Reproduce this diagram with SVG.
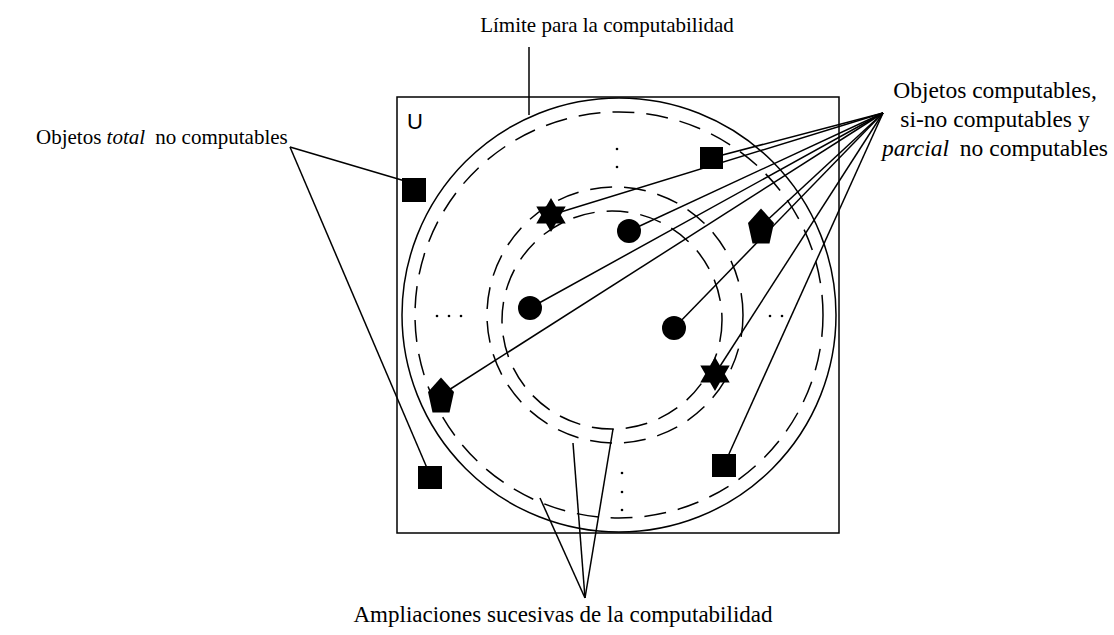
<svg xmlns="http://www.w3.org/2000/svg" xmlns:xlink="http://www.w3.org/1999/xlink" width="1114" height="635" viewBox="0 0 1114 635">
<style>
.lbl{font-family:"Liberation Serif","Times New Roman",serif;font-size:21px;fill:#000}
.big{font-size:23.5px}
.bot{font-size:23px}
.ln{stroke:#000;stroke-width:1.5;fill:none}
.dash{stroke:#000;stroke-width:1.5;fill:none;stroke-dasharray:22 12}
.blk{fill:#000}
.dot{fill:#000}
</style>
<defs>
<polygon id="star" points="0,-17 4.91,-8.5 14.72,-8.5 9.81,0 14.72,8.5 4.91,8.5 0,17 -4.91,8.5 -14.72,8.5 -9.81,0 -14.72,-8.5 -4.91,-8.5"/>
<polygon id="pent" points="0,-17.5 13,-3 8.5,17.5 -8.5,17.5 -13,-3"/>
</defs>
<rect width="1114" height="635" fill="#fff"/>

<g id="universe">
<rect class="ln" x="397" y="97" width="442" height="436"/>
<text x="407" y="129" style="font-family:'Liberation Sans',Arial,sans-serif;font-size:22px">U</text>
</g>

<g id="limit-circle">
<ellipse class="ln" cx="619" cy="315" rx="217" ry="217"/>
</g>
<g id="extension-circles">
<ellipse class="dash" cx="619" cy="315" rx="204" ry="203"/>
<ellipse class="dash" cx="615" cy="315" rx="128" ry="128"/>
<ellipse class="dash" cx="612" cy="320" rx="110" ry="109"/>
</g>

<g id="ellipsis-dots">
<circle class="dot" cx="617" cy="149" r="1.3"/>
<circle class="dot" cx="617" cy="167" r="1.3"/>
<circle class="dot" cx="437" cy="316" r="1.3"/>
<circle class="dot" cx="449" cy="316" r="1.3"/>
<circle class="dot" cx="461" cy="316" r="1.3"/>
<circle class="dot" cx="770" cy="316" r="1.3"/>
<circle class="dot" cx="782" cy="316" r="1.3"/>
<circle class="dot" cx="622" cy="473" r="1.3"/>
<circle class="dot" cx="622" cy="492" r="1.3"/>
<circle class="dot" cx="622" cy="510" r="1.3"/>
</g>

<g id="connectors" class="ln">
<line x1="529" y1="47" x2="529" y2="115"/>
<line x1="290" y1="147" x2="405" y2="181"/>
<line x1="290" y1="147" x2="427" y2="468"/>
<line x1="883" y1="113" x2="551" y2="215"/>
<line x1="883" y1="113" x2="711" y2="158"/>
<line x1="883" y1="113" x2="629" y2="231"/>
<line x1="883" y1="113" x2="530" y2="308"/>
<line x1="883" y1="113" x2="441" y2="395"/>
<line x1="883" y1="113" x2="761" y2="226"/>
<line x1="883" y1="113" x2="674" y2="328"/>
<line x1="883" y1="113" x2="715" y2="374"/>
<line x1="883" y1="113" x2="724" y2="465"/>
<line x1="585" y1="598" x2="540" y2="498"/>
<line x1="585" y1="598" x2="573" y2="443"/>
<line x1="585" y1="598" x2="613" y2="429"/>
</g>

<g id="sq-left"><rect class="blk" x="402" y="178" width="24" height="24"/></g>
<g id="sq-bottom-left"><rect class="blk" x="418" y="466" width="24" height="23"/></g>
<g id="sq-top-right"><rect class="blk" x="700" y="147" width="23" height="22"/></g>
<g id="sq-bottom-right"><rect class="blk" x="712" y="454" width="24" height="23"/></g>
<g id="circ-1"><circle class="blk" cx="629" cy="231" r="12"/></g>
<g id="circ-2"><circle class="blk" cx="530" cy="308" r="12"/></g>
<g id="circ-3"><circle class="blk" cx="674" cy="328" r="12"/></g>
<g id="star-1"><use xlink:href="#star" href="#star" x="551" y="215"/></g>
<g id="star-2"><use xlink:href="#star" href="#star" x="715" y="374"/></g>
<g id="pent-1"><use xlink:href="#pent" href="#pent" x="761" y="226"/></g>
<g id="pent-2"><use xlink:href="#pent" href="#pent" x="441" y="395"/></g>

<g id="label-limit"><text class="lbl" x="607" y="32" text-anchor="middle">Límite para la computabilidad</text></g>
<g id="label-total"><text class="lbl" x="36" y="144">Objetos <tspan font-style="italic">total</tspan><tspan dx="5"> no computables</tspan></text></g>
<g id="label-computables">
<text class="lbl big" x="995" y="98" text-anchor="middle">Objetos computables,</text>
<text class="lbl big" x="995" y="127" text-anchor="middle">si-no computables y</text>
<text class="lbl big" x="995" y="156" text-anchor="middle"><tspan font-style="italic">parcial</tspan><tspan dx="5"> no computables</tspan></text>
</g>
<g id="label-ampliaciones"><text class="lbl bot" x="563" y="622" text-anchor="middle">Ampliaciones sucesivas de la computabilidad</text></g>
</svg>
